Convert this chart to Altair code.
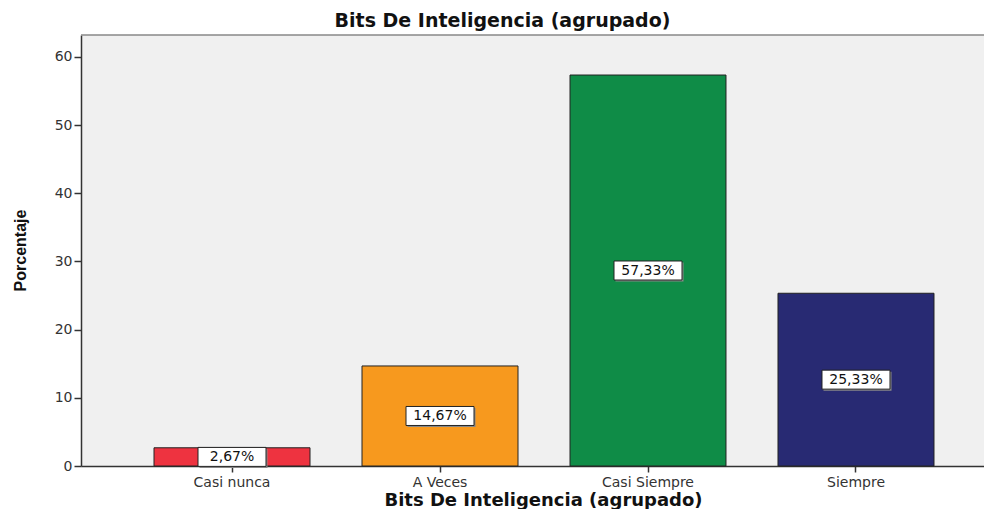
import altair as alt
import pandas as pd

categories = ["Casi nunca", "A Veces", "Casi Siempre", "Siempre"]
values = [2.67, 14.67, 57.33, 25.33]
labels = ["2,67%", "14,67%", "57,33%", "25,33%"]
colors = ["#ee3340", "#f7991e", "#0f8c47", "#282a73"]
y_ticks = [0, 10, 20, 30, 40, 50, 60]

df = pd.DataFrame({"cat": categories, "val": values, "lab": labels})

FONT = "DejaVu Sans"
W, H = 903, 431

xenc = alt.X(
    "cat:N",
    sort=categories,
    scale=alt.Scale(domain=categories, paddingInner=0.25, paddingOuter=0.2957, align=0.5935),
    axis=alt.Axis(
        title="Bits De Inteligencia (agrupado)",
        titleFont=FONT, titleFontSize=18, titleFontWeight="bold", titleColor="#111",
        titleX=462, titleY=39, titleBaseline="alphabetic",
        labelFont=FONT, labelFontSize=14, labelColor="#333", labelAngle=0, labelPadding=3,
        tickSize=6, tickColor="#333", tickWidth=1.5,
        domainColor="#333", domainWidth=1.5,
    ),
)

yscale = alt.Scale(domain=[0, 63.2], nice=False, zero=True)

base = alt.Chart(df)

bars = base.mark_bar(stroke="#222", strokeWidth=1).encode(
    x=xenc,
    y=alt.Y(
        "val:Q",
        scale=yscale,
        axis=alt.Axis(
            title="Porcentaje", values=y_ticks,
            titleFont="Liberation Sans Narrow, Liberation Sans", titleFontSize=16,
            titleFontWeight="bold", titleColor="#111",
            titleAngle=270, titleX=-61, titleY=215, titleBaseline="middle", titleAlign="center",
            labelFont=FONT, labelFontSize=14, labelColor="#333", labelPadding=2,
            tickSize=7, tickColor="#333", tickWidth=1.5,
            domainColor="#333", domainWidth=1.5, grid=False,
        ),
    ),
    color=alt.Color("cat:N", scale=alt.Scale(domain=categories, range=colors), legend=None),
)

lab_base = base.transform_calculate(mid="datum.val / 2")

shadow = lab_base.mark_bar(width=68, color="#888", xOffset=1.5, yOffset=-8, y2Offset=11).encode(
    x=alt.X("cat:N", sort=categories), y=alt.Y("mid:Q", scale=yscale), y2="mid:Q"
)

boxes = lab_base.mark_bar(width=68, fill="white", stroke="#222", strokeWidth=1, yOffset=-9.5, y2Offset=9.5).encode(
    x=alt.X("cat:N", sort=categories), y=alt.Y("mid:Q", scale=yscale), y2="mid:Q"
)

texts = lab_base.mark_text(font=FONT, fontSize=14, color="#111", baseline="middle", dy=0.5).encode(
    x=alt.X("cat:N", sort=categories), y=alt.Y("mid:Q", scale=yscale), text="lab:N"
)

top_line = alt.Chart(pd.DataFrame({"a": [0]})).mark_rule(color="#888", strokeWidth=1.5).encode(
    x=alt.value(0), x2=alt.value(W), y=alt.value(0)
)

chart = alt.layer(bars, shadow, boxes, texts, top_line).properties(
    width=W,
    height=H,
    autosize=alt.AutoSizeParams(type="none"),
    padding={"left": 73, "top": 27, "right": 0, "bottom": 43},
    title=alt.TitleParams(
        "Bits De Inteligencia (agrupado)",
        font=FONT, fontSize=19, fontWeight="bold", color="#111",
        anchor="middle", dx=-30, offset=3,
    ),
).configure(background="white").configure_view(fill="#f0f0f0", stroke=None)

chart.save("out.html", embed_options={"renderer": "svg", "actions": False})
